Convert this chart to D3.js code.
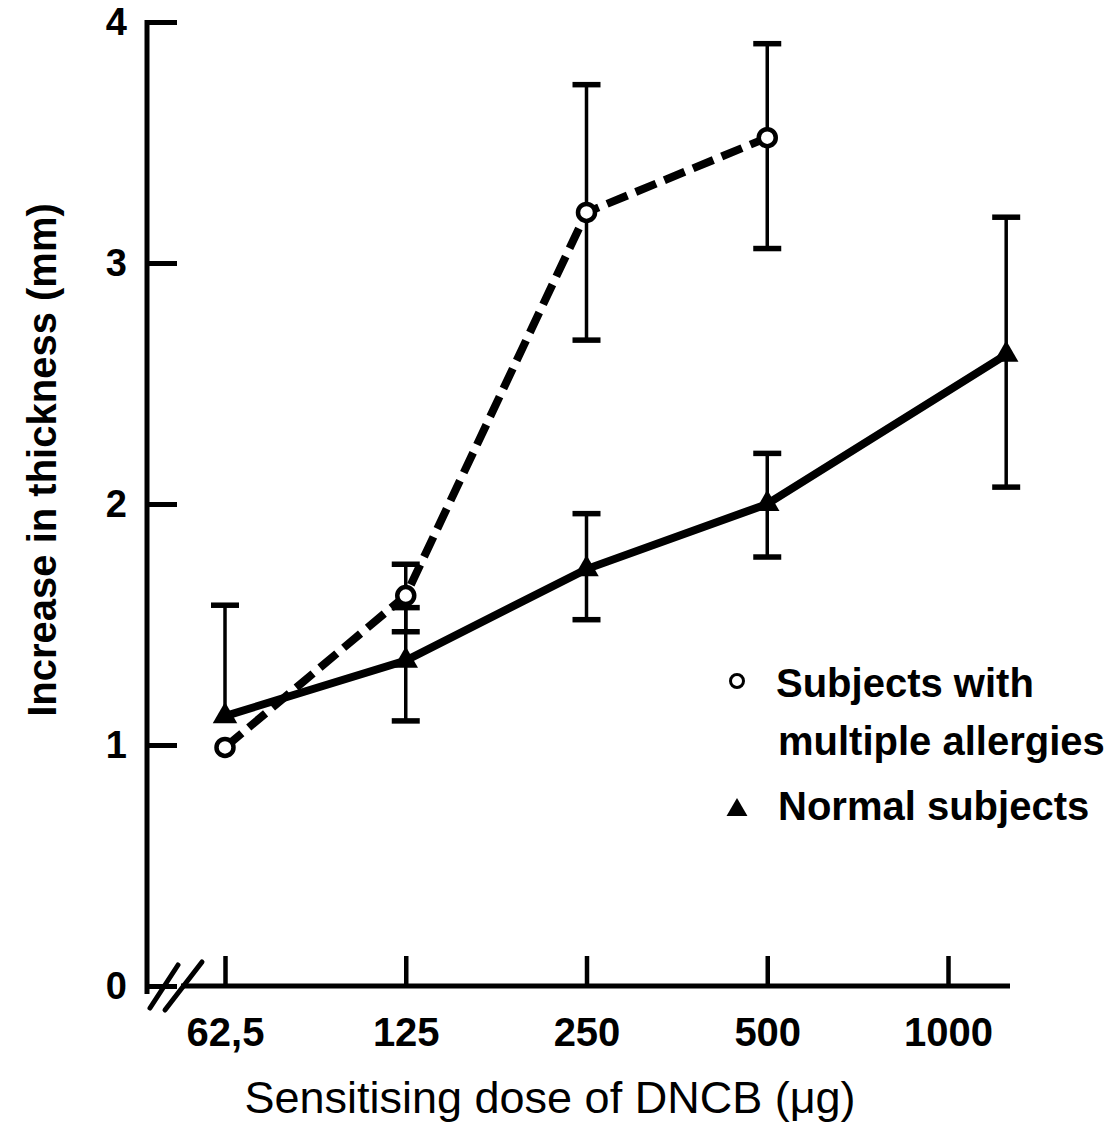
<!DOCTYPE html>
<html>
<head>
<meta charset="utf-8">
<script src="https://cdn.jsdelivr.net/npm/d3@7"></script>
<style>
  body { margin: 0; background: #fff; }
  svg { display: block; font-family: "Liberation Sans", Arial, sans-serif; }
</style>
</head>
<body>
<div id="chart"></div>
<script>

// tick values and labels
const doseTicks = [62.5, 125, 250, 500, 1000];
const doseLabels = ['62,5', '125', '250', '500', '1000'];
const thicknessTicks = [0, 1, 2, 3, 4];

// subjects with multiple allergies (open circles, dashed)
const allergyDose = [62.5, 125, 250, 500];
const allergyMean = [0.99, 1.62, 3.21, 3.52];
const allergyLow  = [null, 1.47, 2.68, 3.06];
const allergyHigh = [null, 1.75, 3.74, 3.91];

// normal subjects (filled triangles, solid)
const normalDose = [62.5, 125, 250, 500, 1250];
const normalMean = [1.12, 1.35, 1.73, 2.0, 2.62];
const normalLow  = [null, 1.10, 1.52, 1.78, 2.07];
const normalHigh = [1.58, 1.57, 1.96, 2.21, 3.19];

const W = 1120, H = 1124;
const axisX = 147;     // y axis position
const axisY = 986;     // x axis position
const plotRight = 1010;

const svg = d3.select('#chart')
    .append('svg')
    .attr('width', W)
    .attr('height', H);

const x = d3.scaleLog()
    .base(2)
    .domain([62.5, 1000])
    .range([225, 948]);

const y = d3.scaleLinear()
    .domain([0, 4])
    .range([axisY, 22]);

// y axis
const yAxis = svg.append('g')
    .attr('transform', `translate(${axisX},0)`)
    .call(d3.axisLeft(y).tickValues(thicknessTicks).tickFormat(d3.format('d'))
        .tickSizeInner(-30).tickSizeOuter(0).tickPadding(20));
yAxis.select('.domain').remove();
yAxis.selectAll('.tick line').attr('stroke', '#000').attr('stroke-width', 5);
yAxis.selectAll('.tick text')
    .attr('font-size', 38)
    .attr('font-weight', 'bold')
    .attr('fill', '#000');
yAxis.append('line')
    .attr('x1', 0).attr('x2', 0)
    .attr('y1', y(4) - 2).attr('y2', axisY + 8)
    .attr('stroke', '#000').attr('stroke-width', 5);

// x axis
const xAxis = svg.append('g')
    .attr('transform', `translate(0,${axisY})`)
    .call(d3.axisBottom(x).tickValues(doseTicks).tickFormat((d, i) => doseLabels[i])
        .tickSizeInner(-30).tickSizeOuter(0).tickPadding(32));
xAxis.select('.domain').remove();
xAxis.selectAll('.tick line').attr('stroke', '#000').attr('stroke-width', 4.5);
xAxis.selectAll('.tick text')
    .attr('font-size', 40)
    .attr('font-weight', 'bold')
    .attr('fill', '#000');
xAxis.append('line')
    .attr('x1', axisX + 34).attr('x2', plotRight)
    .attr('y1', 0).attr('y2', 0)
    .attr('stroke', '#000').attr('stroke-width', 5);

// axis break marks
const brk = svg.append('g').attr('stroke', '#000').attr('stroke-width', 5).attr('stroke-linecap', 'round');
brk.append('line').attr('x1', axisX + 3).attr('y1', axisY + 22).attr('x2', axisX + 31).attr('y2', axisY - 21);
brk.append('line').attr('x1', axisX + 18).attr('y1', axisY + 24).attr('x2', axisX + 55).attr('y2', axisY - 24);

// axis titles
svg.append('text')
    .attr('x', 550)
    .attr('y', 1113)
    .attr('text-anchor', 'middle')
    .attr('font-size', 45)
    .text('Sensitising dose of DNCB (\u03bcg)');

svg.append('text')
    .attr('transform', 'translate(56,460) rotate(-90)')
    .attr('text-anchor', 'middle')
    .attr('font-size', 40)
    .attr('font-weight', 'bold')
    .text('Increase in thickness  (mm)');

const makeRows = (dose, mean, lo, hi) => dose.map((d, i) => ({dose: d, mean: mean[i], lo: lo[i], hi: hi[i]}));
const allergy = makeRows(allergyDose, allergyMean, allergyLow, allergyHigh);
const normal = makeRows(normalDose, normalMean, normalLow, normalHigh);

const line = d3.line().x(d => x(d.dose)).y(d => y(d.mean));

// error bars
const drawErrors = (rows) => {
    const g = svg.append('g').attr('stroke', '#000');
    rows.forEach(d => {
        const top = d.hi != null ? d.hi : d.mean;
        const bot = d.lo != null ? d.lo : d.mean;
        if (top === bot) return;
        g.append('line')
            .attr('x1', x(d.dose)).attr('x2', x(d.dose))
            .attr('y1', y(top)).attr('y2', y(bot))
            .attr('stroke-width', 3.5);
        [d.hi, d.lo].forEach(v => {
            if (v == null) return;
            g.append('line')
                .attr('x1', x(d.dose) - 14).attr('x2', x(d.dose) + 14)
                .attr('y1', y(v)).attr('y2', y(v))
                .attr('stroke-width', 5.5);
        });
    });
};
drawErrors(allergy);
drawErrors(normal);

// lines
svg.append('path')
    .datum(normal)
    .attr('d', line)
    .attr('fill', 'none')
    .attr('stroke', '#000')
    .attr('stroke-width', 8);

svg.append('path')
    .datum(allergy)
    .attr('d', line)
    .attr('fill', 'none')
    .attr('stroke', '#000')
    .attr('stroke-width', 8)
    .style('stroke-dasharray', '22, 9');

// markers
const tri = d3.symbol().type(d3.symbolTriangle).size(260);
svg.append('g')
    .selectAll('path')
    .data(normal)
    .join('path')
    .attr('d', tri)
    .attr('transform', d => `translate(${x(d.dose)},${y(d.mean)})`)
    .attr('fill', '#000');

svg.append('g')
    .selectAll('circle')
    .data(allergy)
    .join('circle')
    .attr('cx', d => x(d.dose))
    .attr('cy', d => y(d.mean))
    .attr('r', 8.5)
    .attr('fill', '#fff')
    .attr('stroke', '#000')
    .attr('stroke-width', 4.5);

// legend
const legend = svg.append('g').attr('font-size', 40).attr('font-weight', 'bold');
legend.append('circle')
    .attr('cx', 737).attr('cy', 681).attr('r', 6.5)
    .attr('fill', '#fff').attr('stroke', '#000').attr('stroke-width', 3);
legend.append('text').attr('x', 776).attr('y', 697).text('Subjects with');
legend.append('text').attr('x', 778).attr('y', 755).text('multiple allergies');
legend.append('path')
    .attr('d', d3.symbol().type(d3.symbolTriangle).size(190))
    .attr('transform', 'translate(737,810)')
    .attr('fill', '#000');
legend.append('text').attr('x', 778).attr('y', 820).text('Normal subjects');

</script>
</body>
</html>
